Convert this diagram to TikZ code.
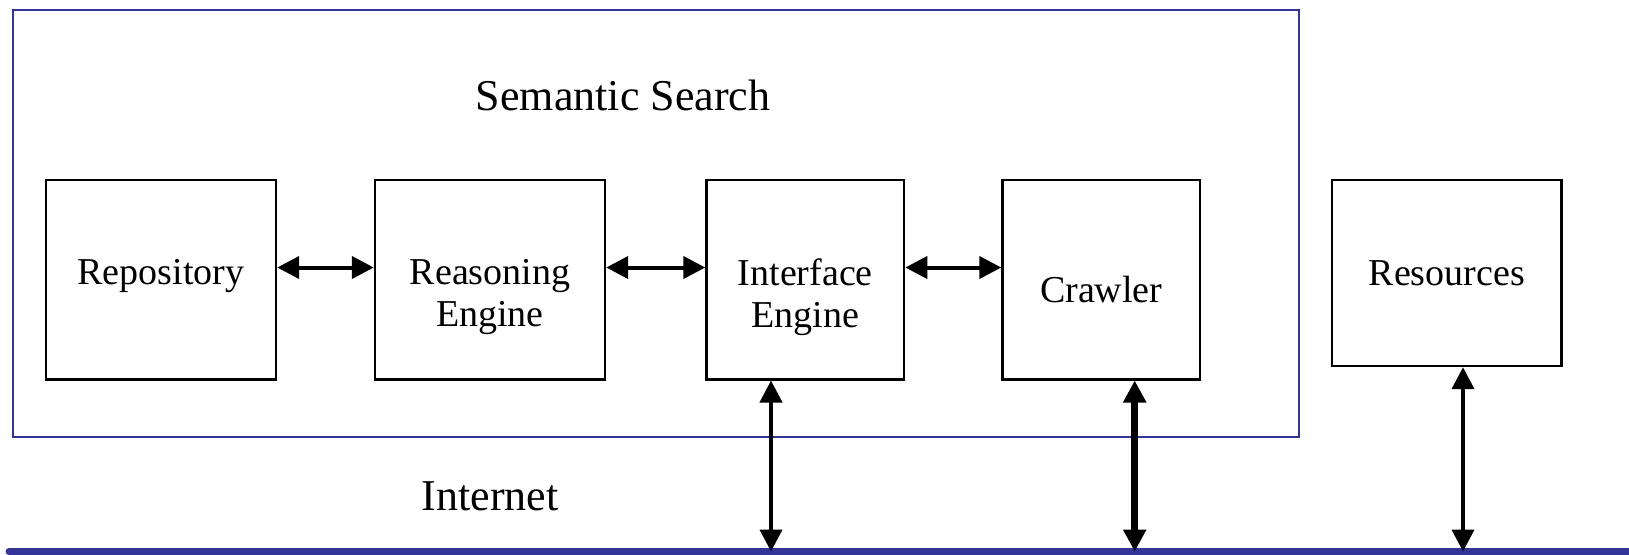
\documentclass[tikz,border=0pt]{standalone}
\usepackage{fontspec}
\setmainfont{Liberation Serif}
\usetikzlibrary{arrows.meta}
\definecolor{frameblue}{RGB}{52,52,150}

\begin{document}
\begin{tikzpicture}[x=0.5pt, y=-0.5pt,
	every node/.style = {shape=rectangle, align=center,
	font=\fontsize{19}{21}\selectfont},
	block/.style = {draw, line width=1.2pt, inner sep=0pt},
	wide/.style = {block, minimum width=115pt, minimum height=99.8pt},
	narrow/.style = {block, minimum width=98.8pt, minimum height=99.8pt},
	title/.style = {font=\fontsize{22}{26}\selectfont},
	link/.style = {line width=2pt,
	{Triangle[length=11pt,width=11pt]}-{Triangle[length=11pt,width=11pt]}},
	]

	\useasboundingbox (0,0) rectangle (1629,554);
	\draw[frameblue, line width=1pt] (12.5,10.4) rectangle (1299,436.5);
	\node[title] (sem) at (623,95) {Semantic Search};
	\node[title] (net) at (490,496) {Internet};

	\node[wide, label={[yshift=1.5pt]center:Repository}] (repo) at (161,279.5) {};
	\node[wide, label={[yshift=-8.8pt]center:{Reasoning\\Engine}}] (reas) at (490,279.5) {};
	\node[narrow, label={[yshift=-8.8pt]center:{Interface\\Engine}}] (intf) at (805.3,279.5) {};
	\node[narrow, label={[yshift=-5.2pt]center:Crawler}] (crawl) at (1101.3,279.5) {};
	\node[block, minimum width=114.8pt, minimum height=93pt] (res) at (1446.8,273) {Resources};

	\coordinate (netL) at (9,551.5);
	\coordinate (netR) at (1640,551.5);
	\coordinate (intfB) at (771,551.5);
	\coordinate (crawlB) at (1134.7,551.5);
	\coordinate (resB) at (1463,551.5);
	\draw[frameblue, line width=3.5pt, line cap=round] (netL) -- (netR);

	\draw[link] ([yshift=6pt]repo.east) -- ([yshift=6pt]reas.west);
	\draw[link] ([yshift=6pt]reas.east) -- ([yshift=6pt]intf.west);
	\draw[link] ([yshift=6pt]intf.east) -- ([yshift=6pt]crawl.west);
	\draw[link] (intfB |- intf.south) -- (intfB);
	\draw[link, line width=3.5pt] (crawlB |- crawl.south) -- (crawlB);
	\draw[link] (resB |- res.south) -- (resB);
\end{tikzpicture}
\end{document}
